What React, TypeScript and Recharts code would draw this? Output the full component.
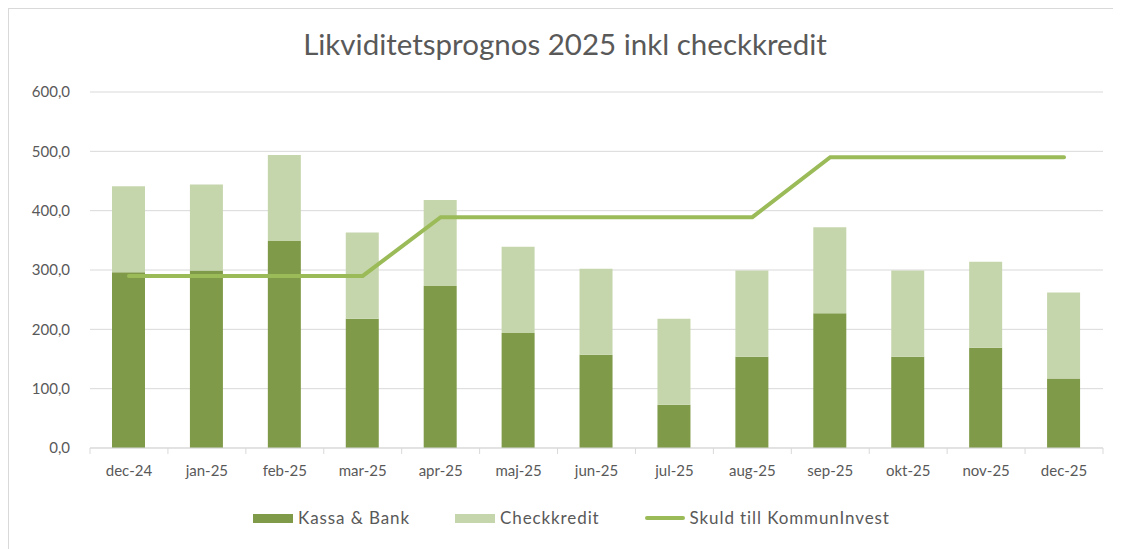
import { Bar, CartesianGrid, ComposedChart, Legend, Line, XAxis, YAxis } from "recharts";

const months = ["dec-24", "jan-25", "feb-25", "mar-25", "apr-25", "maj-25", "jun-25", "jul-25", "aug-25", "sep-25", "okt-25", "nov-25", "dec-25"];
const kassaBank = [296, 299, 349, 218, 273, 194, 157, 73, 154, 227, 154, 169, 117];
const checkkredit = [145, 145, 145, 145, 145, 145, 145, 145, 145, 145, 145, 145, 145];
const skuld = [290, 290, 290, 290, 389, 389, 389, 389, 389, 490, 490, 490, 490];
const yTicks = [0, 100, 200, 300, 400, 500, 600];

const data = months.map((m, i) => ({
  month: m,
  kassa: kassaBank[i],
  check: checkkredit[i],
  skuld: skuld[i],
}));

const FONT = "Lato, 'Open Sans', sans-serif";
const TEXT = "#595959";
const GRID = "#d9d9d9";
const DARK = "#7f9a48";
const LIGHT = "#c6d6ac";
const LINE = "#9bbb59";

const W = 1113;
const H = 541;
const M = { top: 83, right: 18, bottom: 21, left: 8 };
const Y_W = 73;
const BAND = (W - 1 - M.left - M.right - Y_W) / months.length;

// Excel-liknande x-axel: streck mellan kategorierna
function MonthTick(props: any) {
  const { x, y, payload, index } = props;
  return (
    <g>
      <line x1={x - BAND / 2} x2={x - BAND / 2} y1={y - 8} y2={y - 2} stroke={GRID} />
      {index === months.length - 1 && (
        <line x1={x + BAND / 2} x2={x + BAND / 2} y1={y - 8} y2={y - 2} stroke={GRID} />
      )}
      <text x={x} y={y + 20} textAnchor="middle" fill={TEXT} fontSize={15} fontFamily={FONT}>
        {payload.value}
      </text>
    </g>
  );
}

function LegendContent() {
  const items = [
    { label: "Kassa & Bank", color: DARK, type: "bar" },
    { label: "Checkkredit", color: LIGHT, type: "bar" },
    { label: "Skuld till KommunInvest", color: LINE, type: "line" },
  ];
  return (
    <div
      style={{
        display: "flex",
        justifyContent: "center",
        gap: 44,
        fontFamily: FONT,
        fontSize: 17,
        letterSpacing: 0.9,
        color: TEXT,
        marginLeft: 22,
      }}
    >
      {items.map((it) => (
        <div key={it.label} style={{ display: "flex", alignItems: "center", gap: 4 }}>
          <svg width={42} height={10}>
            {it.type === "bar" ? (
              <rect x={1} y={1} width={40} height={9} fill={it.color} />
            ) : (
              <line x1={3} x2={39} y1={5} y2={5} stroke={it.color} strokeWidth={4} strokeLinecap="round" />
            )}
          </svg>
          <span>{it.label}</span>
        </div>
      ))}
    </div>
  );
}

export default function App() {
  return (
    <div
      style={{
        position: "relative",
        width: W,
        height: H,
        borderTop: `1px solid ${GRID}`,
        borderLeft: `1px solid ${GRID}`,
        boxSizing: "border-box",
        background: "#fff",
      }}
    >
      <div
        style={{
          position: "absolute",
          top: 17,
          left: 0,
          width: 1112,
          textAlign: "center",
          fontFamily: FONT,
          fontSize: 29.5,
          color: TEXT,
        }}
      >
        Likviditetsprognos 2025 inkl checkkredit
      </div>
      <ComposedChart width={W - 1} height={H - 1} data={data} margin={M} barSize={33}>
        <CartesianGrid vertical={false} stroke={GRID} />
        <XAxis
          dataKey="month"
          axisLine={{ stroke: GRID }}
          tickLine={false}
          tick={<MonthTick />}
          interval={0}
          height={34}
        />
        <YAxis
          domain={[0, 600]}
          ticks={yTicks}
          width={Y_W}
          axisLine={false}
          tickLine={false}
          tickMargin={14}
          tick={{ fill: TEXT, fontSize: 15, fontFamily: FONT }}
          tickFormatter={(v: number) => v.toFixed(1).replace(".", ",")}
        />
        <Bar dataKey="kassa" name="Kassa & Bank" stackId="a" fill={DARK} isAnimationActive={false} />
        <Bar dataKey="check" name="Checkkredit" stackId="a" fill={LIGHT} isAnimationActive={false} />
        <Line
          dataKey="skuld"
          name="Skuld till KommunInvest"
          type="linear"
          stroke={LINE}
          strokeWidth={4}
          strokeLinecap="round"
          dot={false}
          activeDot={false}
          isAnimationActive={false}
        />
        <Legend verticalAlign="bottom" content={<LegendContent />} wrapperStyle={{ paddingTop: 25 }} />
      </ComposedChart>
    </div>
  );
}
